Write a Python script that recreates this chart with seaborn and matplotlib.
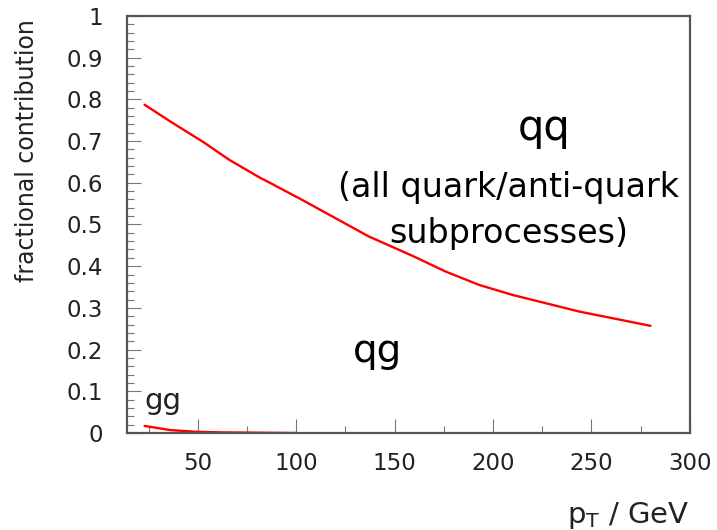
import matplotlib
matplotlib.use("Agg")
import matplotlib.pyplot as plt
from matplotlib.ticker import MultipleLocator
import seaborn as sns
import pandas as pd

# qq (all quark/anti-quark) fractional contribution vs pT
pt_qq = [23, 36, 53, 66, 82, 87, 103, 120, 137, 159, 176, 193, 210, 227, 244, 261, 280]
frac_qq = [0.787, 0.747, 0.697, 0.655, 0.611, 0.599, 0.559, 0.515, 0.471, 0.425,
           0.387, 0.355, 0.331, 0.311, 0.291, 0.275, 0.257]

# gg fractional contribution vs pT
pt_gg = [23, 36, 49, 62, 75, 100]
frac_gg = [0.017, 0.007, 0.003, 0.0015, 0.001, 0.0]

x_ticks = [50, 100, 150, 200, 250, 300]
y_ticks = [0, 0.1, 0.2, 0.3, 0.4, 0.5, 0.6, 0.7, 0.8, 0.9, 1]
y_tick_labels = ["0", "0.1", "0.2", "0.3", "0.4", "0.5", "0.6", "0.7", "0.8", "0.9", "1"]

sns.set_theme(style="white")
plt.rcParams["font.family"] = ["DejaVu Sans"]

fig = plt.figure(figsize=(7.17, 5.30), dpi=100)
ax = fig.add_axes([0.177, 0.183, 0.785, 0.787])

df_qq = pd.DataFrame({"pt": pt_qq, "frac": frac_qq})
df_gg = pd.DataFrame({"pt": pt_gg, "frac": frac_gg})
sns.lineplot(data=df_qq, x="pt", y="frac", ax=ax, color="#ff0000", lw=1.7,
             sort=False, estimator=None)
sns.lineplot(data=df_gg, x="pt", y="frac", ax=ax, color="#ff0000", lw=1.7,
             sort=False, estimator=None)

ax.set_xlim(14, 300)
ax.set_ylim(0, 1)
ax.set_xticks(x_ticks)
ax.set_yticks(y_ticks)
ax.set_yticklabels(y_tick_labels)
ax.xaxis.set_minor_locator(MultipleLocator(25))
ax.yaxis.set_minor_locator(MultipleLocator(0.02))

ax.tick_params(axis="both", which="major", direction="in", length=10, width=0.8,
               color="#777777", labelsize=16.5, labelcolor="#222222")
ax.tick_params(axis="both", which="minor", direction="in", length=5, width=0.8,
               color="#777777")
ax.tick_params(axis="y", which="major", pad=17)
ax.tick_params(axis="x", which="major", pad=14)
ax.tick_params(left=True, bottom=True, top=False, right=False)
ax.tick_params(axis="both", which="minor", left=True, bottom=True)

for side in ["left", "bottom", "top", "right"]:
    ax.spines[side].set_visible(True)
    ax.spines[side].set_color("#555555")
    ax.spines[side].set_linewidth(1.6)

ax.set_xlabel(r"p$_\mathrm{T}$ / GeV", fontsize=21, loc="right", color="#222222", labelpad=18)
ax.set_ylabel("fractional contribution", fontsize=17, loc="top", color="#222222")
ax.yaxis.set_label_coords(-0.157, 0.993)

ax.text(226, 0.703, "qq", fontsize=30, ha="center", va="baseline", color="black")
ax.text(208, 0.566, "(all quark/anti-quark", fontsize=24, ha="center", va="baseline", color="black")
ax.text(208, 0.455, "subprocesses)", fontsize=24, ha="center", va="baseline", color="black")
ax.text(141.5, 0.17, "qg", fontsize=28, ha="center", va="baseline", color="black")
ax.text(23, 0.058, "gg", fontsize=21, ha="left", va="baseline", color="#222222")

fig.savefig("out.png", dpi=100)
